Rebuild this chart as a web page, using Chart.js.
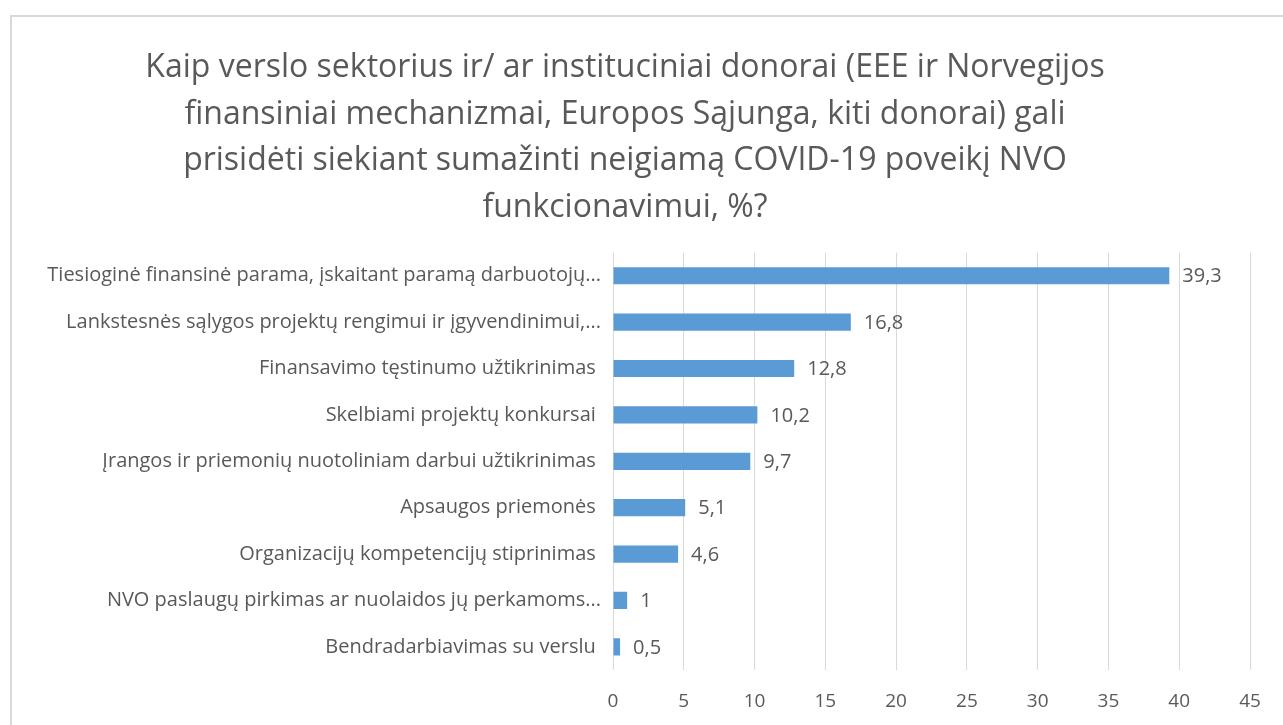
<!DOCTYPE html>
<html lang="lt">
<head>
  <meta charset="UTF-8">
  <title>COVID-19 poveikis NVO</title>
  <style>
    html, body {
      margin: 0;
      padding: 0;
      background: #fff;
      overflow: hidden;
    }
    .frame {
      position: absolute;
      left: 10px;
      top: 15px;
      width: 1400px;
      height: 900px;
      border: 2px solid #d9d9d9;
    }
    .wrap {
      position: absolute;
      left: 0;
      top: 0;
      width: 1283px;
      height: 725px;
    }
  </style>
</head>
<body>
  <div class="frame"></div>
  <div class="wrap">
    <canvas id="chart"></canvas>
  </div>

  <script src="https://cdn.jsdelivr.net/npm/chart.js"></script>
  <script>
    const titleLines = [
      'Kaip verslo sektorius ir/ ar instituciniai donorai (EEE ir Norvegijos',
      'finansiniai mechanizmai, Europos Sąjunga, kiti donorai) gali',
      'prisidėti siekiant sumažinti neigiamą COVID-19 poveikį NVO',
      'funkcionavimui, %?'
    ];

    // labels that were not shortened keep their trailing space, as in the original
    const categories = [
      'Tiesioginė finansinė parama, įskaitant paramą darbuotojų...',
      'Lankstesnės sąlygos projektų rengimui ir įgyvendinimui,...',
      'Finansavimo tęstinumo užtikrinimas ',
      'Skelbiami projektų konkursai ',
      'Įrangos ir priemonių nuotoliniam darbui užtikrinimas ',
      'Apsaugos priemonės ',
      'Organizacijų kompetencijų stiprinimas ',
      'NVO paslaugų pirkimas ar nuolaidos jų perkamoms...',
      'Bendradarbiavimas su verslu '
    ];

    const values = [39.3, 16.8, 12.8, 10.2, 9.7, 5.1, 4.6, 1, 0.5];

    const axisMax = 45;
    const axisStep = 5;

    const FONT = "'Open Sans', sans-serif";
    const TEXT = '#595959';

    // value labels at the end of each bar, with a decimal comma
    const valueLabels = {
      id: 'valueLabels',
      afterDatasetsDraw(chart) {
        const ctx = chart.ctx;
        const meta = chart.getDatasetMeta(0);
        ctx.save();
        ctx.font = '20px ' + FONT;
        ctx.fillStyle = TEXT;
        ctx.textBaseline = 'middle';
        ctx.textAlign = 'left';
        meta.data.forEach((bar, i) => {
          const txt = String(values[i]).replace('.', ',');
          ctx.fillText(txt, bar.x + 13, bar.y + 1);
        });
        ctx.restore();
      }
    };

    new Chart(document.getElementById('chart'), {
      type: 'bar',
      data: {
        labels: categories,
        datasets: [{
          data: values,
          backgroundColor: '#5b9bd5',
          categoryPercentage: 1,
          barPercentage: 0.37
        }]
      },
      options: {
        indexAxis: 'y',
        responsive: true,
        maintainAspectRatio: false,
        animation: false,
        layout: {
          padding: { left: 0, right: 33, top: 0, bottom: 0 }
        },
        plugins: {
          legend: { display: false },
          tooltip: { enabled: false },
          title: {
            display: true,
            text: titleLines,
            color: TEXT,
            font: { family: FONT, size: 32, weight: 'normal', lineHeight: 1.45 },
            padding: { top: 45, bottom: 22 }
          }
        },
        scales: {
          x: {
            min: 0,
            max: axisMax,
            afterFit(scale) { scale.height = 55; },
            ticks: {
              stepSize: axisStep,
              color: TEXT,
              padding: 20,
              font: { family: FONT, size: 19 }
            },
            grid: { color: '#d9d9d9', drawTicks: false },
            border: { display: false }
          },
          y: {
            afterFit(scale) { scale.width = 613; },
            ticks: {
              color: TEXT,
              padding: 4,
              font: { family: FONT, size: 20 }
            },
            grid: { display: false },
            border: { display: false }
          }
        }
      },
      plugins: [valueLabels]
    });
  </script>
</body>
</html>
